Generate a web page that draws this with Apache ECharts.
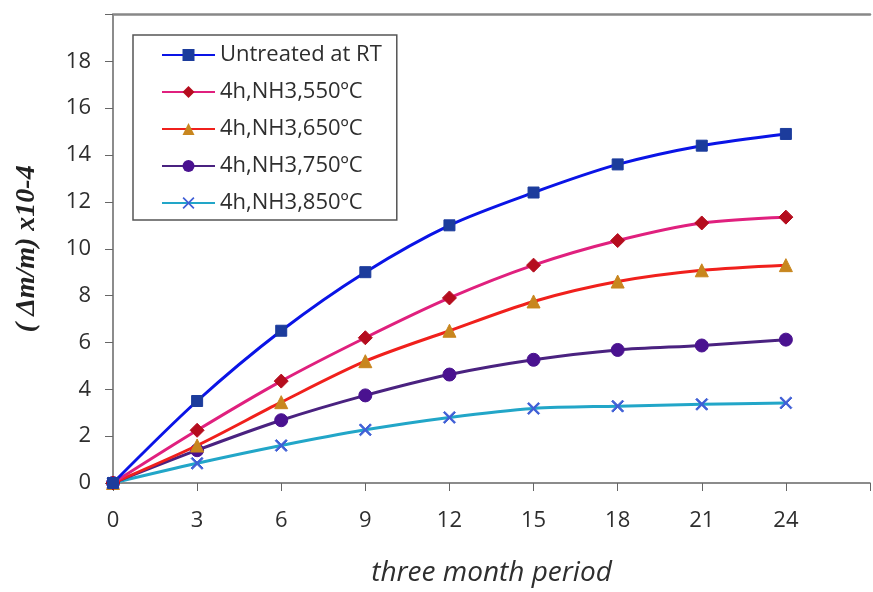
<!DOCTYPE html>
<html><head><meta charset="utf-8">
<script src="https://cdn.jsdelivr.net/npm/echarts@6/dist/echarts.min.js"></script>
<style>html,body{margin:0;padding:0;background:#fff}#c{width:873px;height:592px}</style>
</head><body><div id="c"></div>
<script>
var months = [0, 3, 6, 9, 12, 15, 18, 21, 24];
var seriesNames = ['Untreated at RT', '4h,NH3,550ºC', '4h,NH3,650ºC', '4h,NH3,750ºC', '4h,NH3,850ºC'];
var untreated = [0, 3.5, 6.5, 9.0, 11.0, 12.4, 13.6, 14.4, 14.9];
var nh550 = [0, 2.25, 4.35, 6.2, 7.9, 9.3, 10.35, 11.1, 11.35];
var nh650 = [0, 1.6, 3.45, 5.2, 6.5, 7.75, 8.6, 9.08, 9.3];
var nh750 = [0, 1.4, 2.68, 3.74, 4.63, 5.26, 5.68, 5.87, 6.12];
var nh850 = [0, 0.84, 1.6, 2.27, 2.8, 3.18, 3.28, 3.36, 3.42];

var xPath = 'path://M1,0L5,4L9,0L10,1L6,5L10,9L9,10L5,6L1,10L0,9L4,5L0,1Z';
var styles = [
  {line: '#0a14e6', mk: '#1c3c9c', sym: 'rect', size: 11},
  {line: '#e0207e', mk: '#b50d1e', sym: 'diamond', size: 14},
  {line: '#f0201c', mk: '#c8861e', sym: 'triangle', size: 13},
  {line: '#4a2280', mk: '#4a1290', sym: 'circle', size: 13},
  {line: '#22a6c8', mk: '#3f5fd6', sym: xPath, size: 12}
];
var allData = [untreated, nh550, nh650, nh750, nh850];

function pairs(vals) { return months.map(function (m, i) { return [m, vals[i]]; }); }

var series = allData.map(function (vals, k) {
  var s = styles[k];
  return {
    name: seriesNames[k], type: 'line', smooth: 0.3,
    data: pairs(vals), symbol: s.sym, symbolSize: s.size,
    lineStyle: {color: s.line, width: 3},
    itemStyle: {color: s.mk, borderColor: s.mk},
    z: 10 - k
  };
});

var chart = echarts.init(document.getElementById('c'), null, {renderer: 'canvas'});
chart.setOption({
  animation: false,
  backgroundColor: '#fff',
  grid: {left: 113, top: 14.5, width: 765, height: 476},
  legend: {
    orient: 'vertical', left: 133, top: 35,
    data: seriesNames,
    backgroundColor: '#fff', borderColor: '#555', borderWidth: 1.5,
    padding: [9, 15, 6, 28],
    itemWidth: 53, itemHeight: 15, itemGap: 15,
    textStyle: {fontFamily: 'Open Sans', fontSize: 22, color: '#2e2e2e'}
  },
  xAxis: [{
    type: 'value', min: 0, max: 27, interval: 3,
    name: 'three month period', nameLocation: 'middle', nameGap: 76,
    nameTextStyle: {fontFamily: 'Open Sans', fontStyle: 'italic', fontSize: 28, color: '#2e2e2e'},
    axisLine: {lineStyle: {color: '#666', width: 1.5}},
    axisTick: {show: true, length: 8, lineStyle: {color: '#666'}},
    axisLabel: {margin: 27, fontFamily: 'Open Sans', fontSize: 22, color: '#2e2e2e',
      formatter: function (v) { return v > 24 ? '' : String(v); }},
    splitLine: {show: false}
  }, {
    type: 'value', position: 'top', min: 0, max: 27,
    axisLine: {show: true, lineStyle: {color: '#888', width: 2.5}},
    axisTick: {show: false}, axisLabel: {show: false}, splitLine: {show: false}
  }],
  yAxis: {
    type: 'value', min: 0, max: 20, interval: 2,
    name: '( Δm/m) x10-4', nameLocation: 'middle', nameGap: 72,
    nameTextStyle: {fontFamily: 'Liberation Serif', fontStyle: 'italic', fontWeight: 'bold', fontSize: 28, color: '#222'},
    axisLine: {show: true, lineStyle: {color: '#666', width: 1.5}},
    axisTick: {show: true, length: 8, lineStyle: {color: '#666'}},
    axisLabel: {margin: 22, fontFamily: 'Open Sans', fontSize: 22, color: '#2e2e2e',
      formatter: function (v) { return v >= 20 ? '' : String(v); }},
    splitLine: {show: false}
  },
  series: series
});
</script></body></html>
